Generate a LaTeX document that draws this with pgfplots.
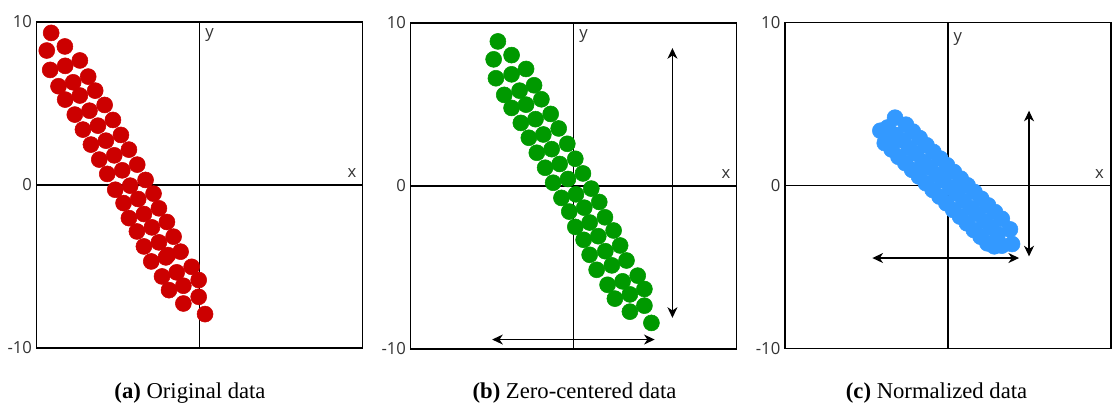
\documentclass[border=0pt]{standalone}
\usepackage{pgfplots}
\pgfplotsset{compat=1.18}
\usepackage{fontspec}
\setmainfont{Liberation Serif}
\newfontfamily\osans{Open Sans}
\usetikzlibrary{arrows.meta}
\definecolor{cred}{RGB}{204,0,0}
\definecolor{cgreen}{RGB}{0,153,0}
\definecolor{cblue}{RGB}{51,153,255}
\pgfplotstableread{
x y
-9.11 9.33
-9.38 8.25
-8.27 8.50
-9.17 7.06
-8.25 7.31
-7.35 7.64
-8.66 6.06
-7.76 6.30
-6.84 6.65
-8.25 5.24
-7.35 5.49
-6.41 5.79
-7.66 4.32
-6.76 4.56
-5.83 4.91
-7.16 3.40
-6.24 3.64
-5.32 3.99
-6.67 2.48
-5.75 2.72
-4.83 3.07
-6.16 1.56
-5.24 1.82
-4.34 2.17
-5.67 0.68
-4.75 0.90
-3.83 1.25
-5.18 -0.29
-4.26 -0.04
-3.32 0.31
-4.67 -1.11
-3.77 -0.86
-2.83 -0.53
-4.34 -2.03
-3.42 -1.78
-2.50 -1.43
-3.85 -2.85
-2.93 -2.60
-2.01 -2.27
-3.42 -3.77
-2.50 -3.52
-1.60 -3.17
-2.97 -4.69
-2.07 -4.44
-1.95 -4.30
-1.17 -4.09
-2.31 -5.61
-1.41 -5.36
-0.49 -5.02
-1.88 -6.45
-1.00 -6.18
-0.06 -5.83
-1.00 -7.27
-0.06 -6.86
0.33 -7.92
}\dataA
\pgfplotstableread{
x y
-4.65 8.87
-4.91 7.77
-3.81 8.03
-4.77 6.61
-3.81 6.85
-2.92 7.18
-4.26 5.59
-3.32 5.85
-2.43 6.18
-3.81 4.79
-2.92 4.99
-1.98 5.32
-3.24 3.87
-2.34 4.10
-1.41 4.42
-2.75 2.96
-1.86 3.16
-0.92 3.53
-2.26 2.04
-1.35 2.26
-0.39 2.59
-1.75 1.12
-0.86 1.35
0.10 1.67
-1.26 0.20
-0.35 0.43
0.57 0.77
-0.75 -0.73
0.14 -0.51
1.08 -0.16
-0.27 -1.57
0.65 -1.33
1.57 -0.98
0.10 -2.51
0.98 -2.24
1.92 -1.92
0.61 -3.30
1.51 -3.08
2.45 -2.73
0.98 -4.22
1.94 -4.00
2.85 -3.65
1.41 -5.14
2.34 -4.87
3.24 -4.57
2.08 -6.06
3.00 -5.85
3.93 -5.50
2.53 -6.91
3.45 -6.65
4.34 -6.32
3.45 -7.71
4.34 -7.34
4.77 -8.40
}\dataB
\pgfplotstableread{
x y
-4.15 3.35
-3.70 3.55
-3.25 4.15
-3.88 2.59
-3.23 3.10
-2.58 3.72
-3.46 2.20
-2.75 2.75
-2.16 3.30
-3.04 1.75
-2.40 2.30
-1.74 2.90
-2.62 1.36
-1.95 1.95
-1.32 2.46
-2.20 0.95
-1.55 1.45
-0.90 2.05
-1.78 0.54
-1.10 1.10
-0.48 1.64
-1.36 0.13
-0.70 0.65
-0.06 1.23
-0.94 -0.28
-0.30 0.30
0.36 0.82
-0.52 -0.69
0.15 -0.15
0.78 0.41
-0.10 -1.10
0.55 -0.50
1.20 0.00
0.32 -1.51
0.95 -0.95
1.62 -0.41
0.74 -1.92
1.40 -1.40
2.04 -0.82
1.16 -2.33
1.80 -1.75
2.46 -1.23
1.58 -2.74
2.25 -2.20
2.88 -1.64
2.00 -3.15
2.65 -2.60
3.30 -2.05
2.42 -3.56
3.05 -3.00
3.80 -2.70
2.84 -3.74
3.30 -3.70
3.93 -3.60
}\dataC
\tikzset{
  lab/.style={font=\osans\fontsize{12.5}{14}\selectfont, text=black!80},
  cross/.style={black, line width=1pt},
  dots/.style={mark=*, mark size=6pt, mark options={draw=#1, fill=#1, line width=0.4pt}},
  arr/.style={black, line width=0.9pt, {Stealth[length=8pt,width=7.5pt,inset=2.5pt]}-{Stealth[length=8pt,width=7.5pt,inset=2.5pt]}},
}
\pgfplotsset{
  panel/.style={
    scale only axis, width=244.5pt, height=244.5pt,
    xmin=-10, xmax=10, ymin=-10, ymax=10,
    axis line style={line width=1pt},
    xtick=\empty, ytick={-10,0,10}, yticklabels={-10,0,10},
    major tick length=0pt,
    yticklabel style={font=\osans\fontsize{12.5}{14}\selectfont, text=black!80},
    clip=false, anchor=south west,
  },
}
\begin{document}
\begin{tikzpicture}
\useasboundingbox (0,0) rectangle (834pt,302.25pt);
% (a)
\begin{axis}[panel, at={(27.5pt,41.25pt)}]
\addplot[cross, forget plot] coordinates {(0,-10) (0,10)};
\addplot[cross, forget plot] coordinates {(-10,0) (10,0)};
\addplot[only marks, dots=cred] table {\dataA};
\node[lab] at (axis cs:9.35,0.75) {x};
\node[lab] at (axis cs:0.6,9.2) {y};
\end{axis}
% (b)
\begin{axis}[panel, at={(308pt,40.5pt)}]
\addplot[cross, forget plot] coordinates {(0,-10) (0,10)};
\addplot[cross, forget plot] coordinates {(-10,0) (10,0)};
\addplot[only marks, dots=cgreen] table {\dataB};
\addplot[arr] coordinates {(6.06,8.46) (6.06,-8.09)};
\addplot[arr] coordinates {(-5.0,-9.42) (4.97,-9.42)};
\node[lab] at (axis cs:9.35,0.75) {x};
\node[lab] at (axis cs:0.6,9.2) {y};
\end{axis}
% (c)
\begin{axis}[panel, at={(588.75pt,41pt)}]
\addplot[cross, forget plot] coordinates {(0,-10) (0,10)};
\addplot[cross, forget plot] coordinates {(-10,0) (10,0)};
\addplot[only marks, dots=cblue] table {\dataC};
\addplot[arr] coordinates {(4.97,4.58) (4.97,-4.36)};
\addplot[arr] coordinates {(-4.64,-4.46) (4.36,-4.46)};
\node[lab] at (axis cs:9.3,0.7) {x};
\node[lab] at (axis cs:0.6,9.0) {y};
\end{axis}
\node[anchor=base, font=\fontsize{17}{20}\selectfont, inner sep=0pt] at (142.5pt,3.75pt) {\textbf{(a)} Original data};
\node[anchor=base, font=\fontsize{17}{20}\selectfont, inner sep=0pt] at (430.9pt,3.75pt) {\textbf{(b)} Zero-centered data};
\node[anchor=base, font=\fontsize{17}{20}\selectfont, inner sep=0pt] at (702.4pt,3.75pt) {\textbf{(c)} Normalized data};
\end{tikzpicture}
\end{document}
